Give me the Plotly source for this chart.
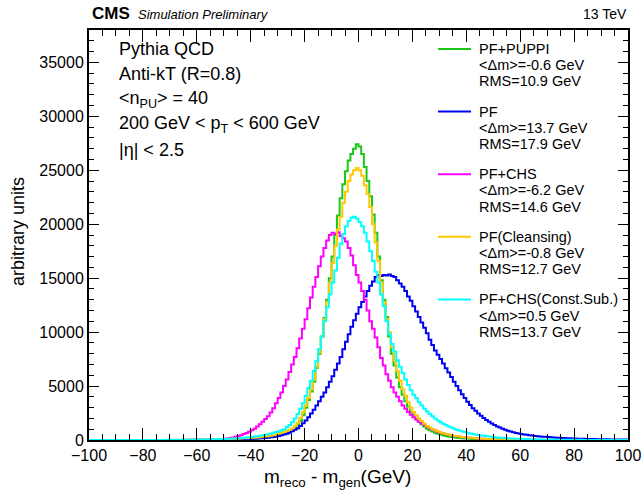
import plotly.graph_objects as go

# bin lower edges: -100 ... 99 (1 GeV bins)
edges = list(range(-100, 101))

puppi = [
    0, 0, 0, 0, 0, 0, 0, 0, 0, 0,
    0, 0, 0, 1, 1, 1, 1, 2, 2, 2,
    2, 3, 3, 3, 4, 4, 5, 5, 6, 7,
    7, 8, 9, 10, 11, 12, 13, 14, 15, 17,
    18, 20, 22, 24, 26, 28, 30, 33, 36, 40,
    44, 48, 53, 58, 64, 70, 78, 86, 96, 108,
    120, 135, 150, 170, 190, 215, 245, 280, 320, 380,
    440, 500, 570, 650, 740, 850, 1050, 1350, 1750, 2300,
    3000, 3700, 4500, 5400, 6700, 8000, 9600, 11300, 13000, 15000,
    17000, 19000, 20800, 22400, 23700, 24900, 25900, 26500, 27000, 27400,
    27200, 26500, 25300, 24000, 22600, 20900, 19200, 17000, 14800, 13000,
    11400, 9600, 8000, 6900, 5800, 4900, 4200, 3600, 3100, 2600,
    2300, 2000, 1700, 1450, 1250, 1050, 900, 780, 680, 580,
    500, 440, 380, 330, 285, 250, 220, 195, 170, 150,
    130, 115, 102, 90, 80, 70, 62, 55, 49, 44,
    40, 36, 32, 29, 26, 23, 21, 19, 17, 15,
    14, 12, 11, 10, 9, 8, 7, 7, 6, 5,
    5, 4, 4, 3, 3, 3, 2, 2, 2, 2,
    1, 1, 1, 1, 1, 1, 1, 0, 0, 0,
    0, 0, 0, 0, 0, 0, 0, 0, 0, 0,
]

pf = [
    0, 0, 0, 0, 0, 0, 0, 0, 0, 0,
    0, 0, 0, 0, 1, 1, 1, 1, 1, 1,
    1, 1, 2, 2, 2, 2, 3, 3, 3, 4,
    4, 4, 5, 5, 6, 7, 8, 9, 10, 11,
    12, 13, 15, 16, 18, 20, 22, 24, 26, 28,
    30, 34, 38, 42, 47, 53, 60, 68, 77, 88,
    110, 122, 136, 152, 172, 195, 220, 250, 285, 330,
    380, 430, 500, 580, 680, 800, 950, 1100, 1300, 1550,
    1800, 2100, 2450, 2800, 3200, 3600, 4000, 4400, 4900, 5400,
    5900, 6500, 7100, 7700, 8400, 9100, 9800, 10500, 11100, 11700,
    12300, 12800, 13300, 13800, 14300, 14700, 15100, 15300, 15200, 15300,
    15250, 15350, 15200, 15100, 14800, 14500, 14200, 13800, 13300, 12900,
    12400, 11900, 11400, 10900, 10400, 9900, 9300, 8800, 8300, 7900,
    7500, 7100, 6650, 6250, 5850, 5400, 5000, 4600, 4250, 3900,
    3550, 3250, 2950, 2700, 2450, 2250, 2050, 1850, 1680, 1520,
    1380, 1260, 1150, 1040, 940, 860, 790, 720, 660, 610,
    560, 520, 480, 440, 410, 380, 350, 330, 310, 290,
    270, 250, 235, 220, 205, 190, 178, 166, 155, 145,
    135, 126, 118, 110, 103, 96, 90, 84, 78, 73,
    68, 64, 60, 56, 52, 49, 46, 43, 40, 38,
]

chs = [
    0, 0, 0, 0, 0, 0, 0, 0, 0, 0,
    0, 0, 1, 1, 1, 1, 1, 1, 2, 2,
    2, 2, 2, 3, 3, 3, 4, 4, 5, 5,
    6, 7, 7, 8, 9, 10, 11, 12, 14, 16,
    20, 23, 26, 30, 35, 40, 47, 56, 68, 85,
    110, 140, 180, 235, 300, 370, 450, 545, 650, 770,
    900, 1050, 1250, 1450, 1700, 1950, 2200, 2550, 2950, 3400,
    3900, 4400, 5000, 5600, 6300, 7000, 7700, 8500, 9400, 10300,
    11200, 12200, 13200, 14200, 15100, 16100, 17000, 17800, 18500, 19000,
    19200, 19100, 19250, 18900, 18700, 18400, 17800, 17100, 16200, 15300,
    14600, 13800, 13000, 12000, 11000, 10300, 9500, 8600, 7600, 6900,
    6100, 5500, 4900, 4400, 4000, 3600, 3200, 2900, 2600, 2350,
    2100, 1900, 1700, 1550, 1400, 1250, 1100, 980, 870, 770,
    680, 610, 545, 490, 430, 380, 345, 310, 275, 245,
    220, 200, 180, 160, 140, 125, 110, 98, 87, 78,
    70, 62, 55, 49, 44, 39, 35, 31, 28, 25,
    22, 20, 18, 16, 14, 12, 11, 10, 9, 8,
    7, 6, 6, 5, 5, 4, 4, 3, 3, 3,
    2, 2, 2, 2, 1, 1, 1, 1, 1, 1,
    1, 1, 0, 0, 0, 0, 0, 0, 0, 0,
]

cleansing = [
    0, 0, 0, 0, 0, 0, 0, 0, 1, 1,
    1, 1, 1, 2, 2, 2, 3, 3, 3, 4,
    4, 5, 5, 6, 7, 7, 8, 9, 10, 11,
    12, 13, 15, 16, 18, 20, 22, 24, 26, 29,
    32, 35, 38, 42, 46, 50, 55, 60, 66, 73,
    80, 88, 96, 105, 115, 126, 138, 152, 167, 183,
    200, 220, 240, 265, 290, 320, 355, 395, 440, 520,
    600, 670, 750, 850, 950, 1100, 1300, 1600, 2050, 2600,
    3200, 3900, 4700, 5600, 6800, 8100, 9600, 11200, 12800, 14600,
    16400, 18000, 19500, 20700, 22000, 23000, 24000, 24600, 25000, 25200,
    25000, 24500, 23600, 22800, 21600, 20000, 18300, 16600, 14600, 12800,
    11200, 10000, 8600, 7400, 6400, 5500, 4700, 4100, 3500, 3000,
    2600, 2300, 2000, 1750, 1500, 1300, 1150, 1000, 900, 800,
    700, 630, 560, 500, 450, 400, 360, 320, 285, 250,
    220, 200, 180, 160, 140, 120, 110, 100, 90, 80,
    70, 63, 57, 51, 46, 41, 37, 33, 30, 27,
    25, 22, 20, 18, 16, 14, 13, 12, 11, 10,
    9, 8, 7, 6, 6, 5, 5, 4, 4, 3,
    3, 3, 2, 2, 2, 2, 1, 1, 1, 1,
    1, 1, 1, 0, 0, 0, 0, 0, 0, 0,
]

constsub = [
    0, 0, 0, 0, 0, 1, 1, 1, 1, 1,
    1, 2, 2, 2, 3, 3, 3, 4, 4, 5,
    5, 6, 6, 7, 8, 9, 10, 11, 12, 13,
    15, 17, 19, 21, 23, 25, 28, 31, 34, 37,
    40, 44, 48, 53, 58, 64, 70, 77, 84, 92,
    100, 110, 122, 135, 150, 166, 184, 205, 228, 255,
    285, 315, 350, 390, 435, 485, 540, 600, 665, 730,
    800, 900, 1000, 1200, 1400, 1650, 2000, 2400, 2900, 3400,
    4100, 4800, 5500, 6400, 7300, 8400, 9600, 11000, 12300, 13500,
    14600, 15700, 16900, 18200, 19100, 19800, 20300, 20600, 20700, 20500,
    20200, 19800, 19200, 18400, 17500, 16600, 15600, 14600, 13500, 12400,
    11000, 9800, 8900, 8200, 7400, 6800, 6200, 5600, 5100, 4600,
    4200, 3900, 3500, 3200, 2900, 2650, 2400, 2200, 2000, 1800,
    1650, 1500, 1380, 1260, 1150, 1050, 950, 870, 800, 730,
    660, 610, 560, 510, 465, 420, 385, 350, 320, 290,
    260, 240, 220, 200, 180, 160, 148, 136, 124, 112,
    100, 92, 84, 77, 70, 64, 58, 53, 48, 44,
    40, 36, 33, 30, 27, 24, 22, 20, 18, 16,
    15, 13, 12, 11, 10, 9, 8, 7, 6, 5,
    5, 4, 4, 3, 3, 3, 2, 2, 2, 2,
]

series_names = ["PF+PUPPI", "PF", "PF+CHS", "PF(Cleansing)", "PF+CHS(Const.Sub.)"]
series_vals = [puppi, pf, chs, cleansing, constsub]
series_mean = ["-0.6", "13.7", "-6.2", "-0.8", "0.5"]
series_rms = ["10.9", "17.9", "14.6", "12.7", "13.7"]
series_colors = ["#19c819", "#0000f0", "#ff00ff", "#ffc800", "#00ffff"]

info_lines = [
    "Pythia QCD",
    "Anti-kT (R=0.8)",
    "&lt;n<sub>PU</sub>&gt; = 40",
    "200 GeV &lt; p<sub>T</sub> &lt; 600 GeV",
    "|η| &lt; 2.5",
]

FONT = "Liberation Sans, Arial, Helvetica, sans-serif"
W, H = 642, 492
L, R, T, B = 89, 628, 30, 440


def px(xp):
    return (xp - L) / (R - L)


def py(yp):
    return (B - yp) / (B - T)


fig = go.Figure()
for name, vals, col in zip(series_names, series_vals, series_colors):
    fig.add_trace(go.Scatter(
        x=edges, y=vals + [vals[-1]], mode="lines", line_shape="hv",
        line=dict(color=col, width=2), name=name, showlegend=False,
        hoverinfo="skip"))

ann = []
shapes = []
# info text
for i, t in enumerate(info_lines):
    ann.append(dict(x=px(117), y=py(48.5 + 25.3 * i), xref="paper", yref="paper",
                    text=t, showarrow=False, xanchor="left", yanchor="middle",
                    font=dict(family=FONT, size=18, color="black")))
# legend
for i, (name, m, r, col) in enumerate(zip(series_names, series_mean, series_rms, series_colors)):
    y0 = 49 + 62.6 * i
    shapes.append(dict(type="line", xref="paper", yref="paper",
                       x0=px(438), x1=px(471), y0=py(y0), y1=py(y0),
                       line=dict(color=col, width=2)))
    for j, t in enumerate([name, "&lt;Δm&gt;=" + m + " GeV", "RMS=" + r + " GeV"]):
        ann.append(dict(x=px(477), y=py(y0 + 16.2 * j), xref="paper", yref="paper",
                        text=t, showarrow=False, xanchor="left", yanchor="middle",
                        font=dict(family=FONT, size=14.5, color="black")))
# header
ann.append(dict(x=px(90), y=py(14), xref="paper", yref="paper", text="<b>CMS</b>",
                showarrow=False, xanchor="left", yanchor="middle",
                font=dict(family=FONT, size=17, color="black")))
ann.append(dict(x=px(136), y=py(14.5), xref="paper", yref="paper", text="<i>Simulation Preliminary</i>",
                showarrow=False, xanchor="left", yanchor="middle",
                font=dict(family=FONT, size=13, color="black")))
ann.append(dict(x=px(629), y=py(14.5), xref="paper", yref="paper", text="13 TeV",
                showarrow=False, xanchor="right", yanchor="middle",
                font=dict(family=FONT, size=14, color="black")))
# axis titles
ann.append(dict(x=px(337), y=py(478), xref="paper", yref="paper",
                text="m<sub>reco</sub> - m<sub>gen</sub>(GeV)",
                showarrow=False, xanchor="center", yanchor="middle",
                font=dict(family=FONT, size=19, color="black")))
ann.append(dict(x=px(18), y=py(232), xref="paper", yref="paper",
                text="arbitrary units", textangle=-90,
                showarrow=False, xanchor="center", yanchor="middle",
                font=dict(family=FONT, size=18, color="black")))

fig.update_layout(
    width=W, height=H,
    margin=dict(l=L, r=W - R, t=T, b=H - B, pad=0, autoexpand=False),
    paper_bgcolor="white", plot_bgcolor="white",
    font=dict(family=FONT, size=16, color="black"),
    annotations=ann, shapes=shapes,
    xaxis=dict(range=[-100, 100], tickmode="linear", tick0=-100, dtick=20,
               ticks="inside", ticklen=12, tickwidth=1, tickcolor="black",
               minor=dict(dtick=5, ticks="inside", ticklen=6, tickcolor="black", tickwidth=1),
               showline=True, linecolor="black", linewidth=2, mirror="allticks",
               showgrid=False, zeroline=False, tickfont=dict(size=16), automargin=False),
    yaxis=dict(range=[0, 38000], tickmode="linear", tick0=0, dtick=5000,
               ticks="inside", ticklen=10, tickwidth=1, tickcolor="black",
               minor=dict(dtick=1000, ticks="inside", ticklen=5, tickcolor="black", tickwidth=1),
               showline=True, linecolor="black", linewidth=2, mirror="allticks",
               showgrid=False, zeroline=False, tickfont=dict(size=16),
               exponentformat="none", separatethousands=False, tickformat="d",
               automargin=False),
)

fig.write_html("out.html", config={"displayModeBar": False},
               post_script="document.body.style.margin='0';document.body.style.padding='0';")
